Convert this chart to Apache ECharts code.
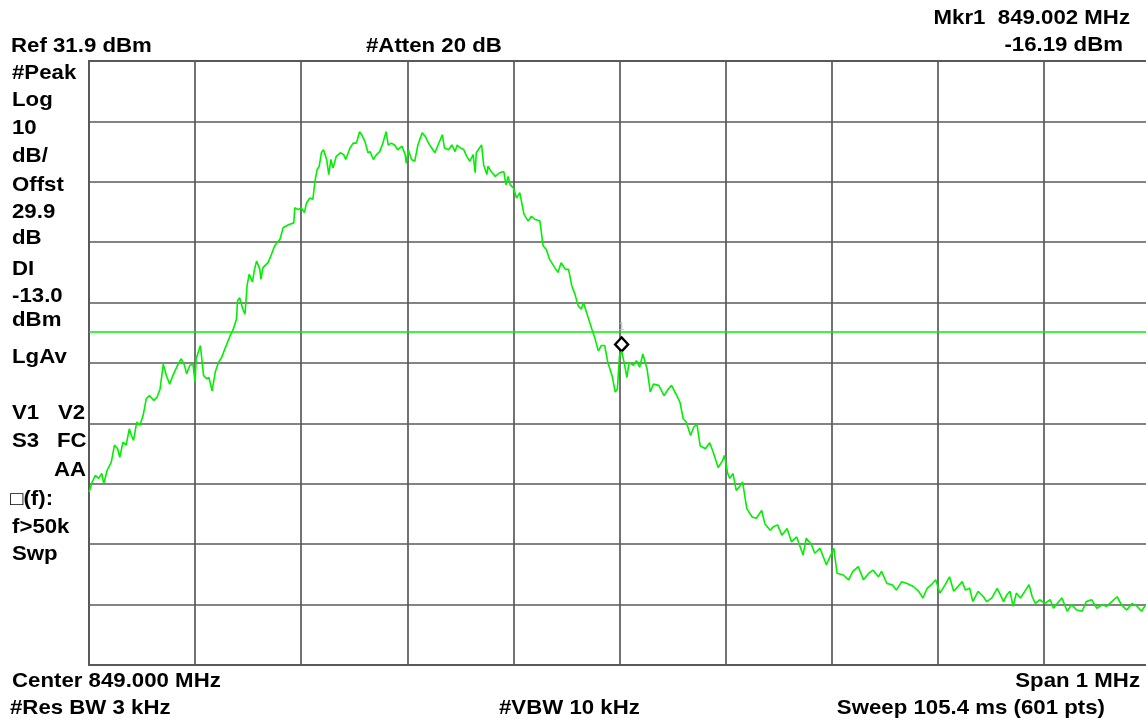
<!DOCTYPE html>
<html>
<head>
<meta charset="utf-8">
<script src="https://cdn.jsdelivr.net/npm/echarts@6/dist/echarts.min.js"></script>
<style>
html,body{margin:0;padding:0;background:#fff;}
#chart{width:1146px;height:726px;}
</style>
</head>
<body>
<div id="chart"></div>
<script>
// Frequency offset from centre (kHz), centre 849.000 MHz, span 1 MHz
var freqOffsetKHz = [
-500,-497,-494,-491,-488,-486,-483,-479,-476,-473,
-471,-468,-465,-462,-460,-458,-455,-452,-449,-446,
-443,-439,-436,-433,-430,-427,-424,-421,-416,-413,
-410,-408,-405,-402,-400,-399,-395,-394,-392,-389,
-387,-384,-381,-378,-375,-372,-367,-364,-361,-360,
-358,-355,-353,-351,-349,-346,-344,-342,-339,-338,
-336,-331,-328,-325,-320,-317,-312,-307,-306,-303,
-300,-297,-295,-292,-289,-287,-285,-283,-281,-279,
-276,-274,-272,-270,-267,-263,-260,-258,-254,-251,
-248,-245,-243,-240,-237,-235,-232,-229,-226,-223,
-220,-218,-215,-212,-209,-205,-202,-201,-199,-196,
-193,-190,-186,-183,-180,-177,-174,-171,-167,-165,
-161,-158,-155,-153,-150,-147,-144,-141,-138,-136,
-135,-130,-128,-125,-124,-121,-117,-113,-109,-107,
-105,-103,-100,-97,-94,-90,-86,-83,-80,-75,
-72,-69,-66,-61,-58,-55,-51,-48,-45,-42,
-39,-36,-34,-30,-26,-23,-20,-17,-14,-11,
-7,-4,-2,0,2,4,7,9,13,16,
19,22,26,29,32,37,42,46,49,54,
57,60,63,67,70,73,76,81,85,88,
93,97,99,102,104,107,110,113,116,120,
125,129,134,137,142,145,149,153,158,162,
167,173,176,181,184,189,195,202,205,211,
216,220,225,230,235,239,244,247,252,257,
261,266,271,277,282,286,290,294,298,302,
307,311,315,319,323,326,330,333,338,343,
346,351,356,359,362,365,368,371,374,378,
382,386,389,392,396,401,406,409,414,417,
422,426,431,436,440,445,450,455,459,464,
469,473,478,483,488,492,496,500
];
// Trace level (dBm)
var levelDbm = [
-39.5,-37.8,-36.7,-37.2,-36.4,-38.1,-35.9,-34.5,-31.7,-32.3,
-33.7,-31.2,-31.7,-29.0,-30.1,-30.9,-27.9,-28.4,-26.8,-24.0,
-23.5,-24.3,-23.8,-22.4,-18.3,-20.2,-21.6,-20.2,-18.3,-17.4,
-18.5,-19.9,-18.5,-18.3,-21.3,-17.4,-15.2,-16.9,-20.2,-20.7,
-20.5,-22.7,-19.6,-18.0,-17.2,-15.8,-13.6,-12.5,-10.8,-7.8,
-7.3,-9.2,-10.0,-5.3,-3.4,-4.7,-2.6,-1.2,-2.6,-4.2,
-2.3,-1.4,-0.1,1.3,2.4,4.3,4.8,5.1,7.6,7.3,
7.6,6.8,8.4,9.2,9.0,12.0,13.9,14.5,16.7,17.2,
15.6,13.1,15.6,14.2,16.1,16.7,16.4,15.6,17.5,18.3,
18.3,20.2,19.7,18.6,16.7,16.9,15.6,16.4,16.9,18.3,
20.2,18.0,18.3,18.0,17.2,17.8,16.4,15.0,17.2,15.6,
15.3,18.0,20.0,19.4,18.3,17.5,16.7,18.0,19.7,17.5,
17.2,18.0,16.9,18.0,17.5,17.3,16.1,15.3,16.4,13.4,
16.7,18.0,14.7,13.1,14.5,13.6,12.8,13.4,13.6,11.4,
12.8,11.4,10.9,9.2,10.1,6.5,5.4,6.2,5.7,5.4,
1.3,0.7,-0.9,-2.3,-3.1,-1.5,-2.6,-2.6,-5.3,-6.7,
-8.6,-9.2,-8.1,-10.3,-12.5,-14.1,-16.1,-15.2,-15.2,-18.0,
-20.2,-22.9,-22.4,-16.9,-16.19,-17.7,-20.5,-18.0,-18.5,-17.7,
-18.8,-16.6,-19.1,-22.9,-21.6,-21.8,-23.5,-22.4,-21.8,-23.5,
-24.6,-27.3,-27.9,-30.1,-28.7,-28.2,-31.8,-32.3,-31.3,-32.7,
-35.4,-34.3,-33.4,-36.4,-37.2,-36.4,-39.2,-38.6,-37.8,-42.2,
-43.6,-43.8,-42.5,-44.7,-45.8,-45.2,-44.9,-46.6,-45.5,-47.7,
-46.9,-49.9,-47.1,-48.2,-49.6,-48.8,-51.5,-48.8,-52.9,-53.2,
-54.0,-52.6,-51.8,-54.0,-52.9,-52.4,-53.5,-52.6,-54.6,-54.8,
-55.7,-54.3,-54.6,-55.1,-55.9,-57.0,-55.4,-54.8,-54.0,-56.2,
-54.8,-53.5,-55.9,-55.1,-54.3,-55.7,-55.4,-57.6,-55.9,-56.8,
-57.6,-57.0,-55.4,-56.5,-57.6,-56.5,-55.9,-58.4,-56.2,-57.0,
-55.9,-54.8,-56.8,-57.9,-57.3,-57.9,-57.3,-58.7,-57.6,-57.0,
-59.2,-58.1,-59.0,-59.2,-57.6,-57.3,-58.7,-58.1,-58.4,-57.6,
-56.8,-58.1,-59.0,-57.9,-58.4,-59.2,-58.1,-58.7
];
var refLevel = 31.9;       // dBm (top of screen)
var dbPerDiv = 10;
var displayLine = -13.0;   // dBm
var marker = {offsetKHz: 2, level: -16.19, label: '1'};

var topTexts = ['Ref 31.9 dBm', '#Atten 20 dB', 'Mkr1  849.002 MHz', '-16.19 dBm'];
var sideLabels = ['#Peak','Log','10','dB/','Offst','29.9','dB','DI','-13.0','dBm','LgAv'];
var bottomTexts = ['Center 849.000 MHz', 'Span 1 MHz', '#Res BW 3 kHz', '#VBW 10 kHz', 'Sweep 105.4 ms (601 pts)'];

var trace = freqOffsetKHz.map(function (f, i) { return [f, levelDbm[i]]; });

var FONT = 'bold 19px "Liberation Sans", Arial, sans-serif';
var SX = 1.17;
function txt(s, x, y, align) {
  return {
    type: 'text', x: x, y: y, scaleX: SX, scaleY: 1.04, silent: true, z: 100,
    style: {text: s, font: FONT, fill: '#000',
      align: align || 'left', verticalAlign: 'middle',
      textAlign: align || 'left', textVerticalAlign: 'middle'}
  };
}
var sideY = [74, 101, 129, 157, 186, 213, 239, 270, 297, 321, 358];
var graphics = [];
graphics.push(txt(topTexts[0], 11, 47));
graphics.push(txt(topTexts[1], 366, 47));
graphics.push(txt(topTexts[2], 1130, 19, 'right'));
graphics.push(txt(topTexts[3], 1123, 46, 'right'));
sideLabels.forEach(function (s, i) { graphics.push(txt(s, 12, sideY[i])); });
graphics.push(txt('V1', 12, 414));
graphics.push(txt('V2', 58, 414));
graphics.push(txt('S3', 12, 442));
graphics.push(txt('FC', 57, 442));
graphics.push(txt('AA', 86, 471, 'right'));
graphics.push(txt('\u25a1(f):', 10, 500));
graphics.push(txt('f>50k', 12, 528));
graphics.push(txt('Swp', 12, 555));
graphics.push(txt(bottomTexts[0], 12, 682));
graphics.push(txt(bottomTexts[1], 1140, 682, 'right'));
graphics.push(txt(bottomTexts[2], 10, 709));
graphics.push(txt(bottomTexts[3], 499, 709));
graphics.push(txt(bottomTexts[4], 1105, 709, 'right'));

var GRIDC = '#5a5a5a';
var chart = echarts.init(document.getElementById('chart'), null, {renderer: 'canvas'});
chart.setOption({
  backgroundColor: '#ffffff',
  animation: false,
  grid: {left: 89, width: 1061, top: 61, height: 604, outerBoundsMode: 'none', containLabel: false,
         show: true, borderColor: GRIDC, borderWidth: 2, backgroundColor: '#fff'},
  xAxis: {
    type: 'value', min: -500, max: 500, interval: 100,
    axisLine: {show: false}, axisTick: {show: false}, axisLabel: {show: false},
    splitLine: {show: true, lineStyle: {color: GRIDC, width: 1.7}}
  },
  yAxis: [
    {type: 'value', min: refLevel - 10 * dbPerDiv, max: refLevel, show: false, splitLine: {show: false}},
    {type: 'value', min: 0, max: 10, interval: 1, position: 'left',
     axisLine: {show: false}, axisTick: {show: false}, axisLabel: {show: false},
     splitLine: {show: true, lineStyle: {color: GRIDC, width: 1.7}}}
  ],
  graphic: graphics,
  series: [{
    type: 'line', yAxisIndex: 0, data: trace, showSymbol: false, symbol: 'none',
    lineStyle: {color: '#00f000', width: 1.6}, z: 5,
    markLine: {
      silent: true, symbol: 'none', label: {show: false},
      lineStyle: {color: '#00f000', width: 1.6, type: 'solid'},
      data: [{yAxis: displayLine}]
    },
    markPoint: {
      silent: true,
      data: [{coord: [marker.offsetKHz, marker.level]}],
      symbol: 'diamond', symbolSize: [13, 14], symbolOffset: [0, -7],
      itemStyle: {color: '#ffffff', borderColor: '#000000', borderWidth: 2.4},
      label: {show: true, position: 'top', distance: 4, formatter: marker.label, color: '#c4c4c4', fontSize: 11, fontFamily: 'Liberation Sans'}
    }
  }]
});
</script>
</body>
</html>
